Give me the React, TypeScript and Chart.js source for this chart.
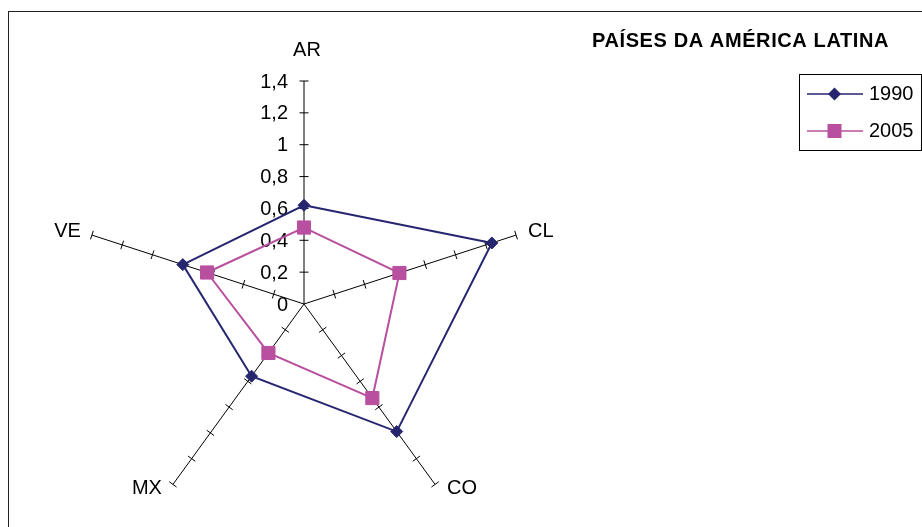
import React, { useEffect, useRef } from 'react';
import { Chart, registerables } from 'chart.js';

Chart.register(...registerables);

const CATEGORIES = ['AR', 'CL', 'CO', 'MX', 'VE'];
const SERIES_LABELS = ['1990', '2005'];
const SERIES_1990 = [0.62, 1.24, 0.99, 0.56, 0.8];
const SERIES_2005 = [0.48, 0.63, 0.73, 0.38, 0.64];
const TICK_VALUES = [0, 0.2, 0.4, 0.6, 0.8, 1, 1.2, 1.4];
const TICK_LABELS = ['0', '0,2', '0,4', '0,6', '0,8', '1', '1,2', '1,4'];
const TITLE = 'PAÍSES DA AMÉRICA LATINA';

const NAVY = '#262670';
const MAGENTA = '#b8509f';
const FONT = '"Liberation Sans", Arial, sans-serif';

function drawDiamond(ctx: CanvasRenderingContext2D, x: number, y: number, r: number, color: string) {
  ctx.beginPath();
  ctx.moveTo(x, y - r);
  ctx.lineTo(x + r, y);
  ctx.lineTo(x, y + r);
  ctx.lineTo(x - r, y);
  ctx.closePath();
  ctx.fillStyle = color;
  ctx.fill();
}

function drawSquare(ctx: CanvasRenderingContext2D, x: number, y: number, s: number, color: string) {
  ctx.fillStyle = color;
  ctx.fillRect(x - s / 2, y - s / 2, s, s);
}

const decorPlugin = {
  id: 'decor',
  beforeDatasetsDraw(chart: any) {
    const r = chart.scales.r;
    const ctx: CanvasRenderingContext2D = chart.ctx;
    ctx.save();
    // tick marks across each axis
    ctx.strokeStyle = '#000';
    ctx.lineWidth = 1;
    CATEGORIES.forEach((_, i) => {
      TICK_VALUES.forEach((v) => {
        if (v === 0) return;
        const p = r.getPointPositionForValue(i, v);
        const a = p.angle;
        const px = -Math.sin(a) * 4.5;
        const py = Math.cos(a) * 4.5;
        ctx.beginPath();
        ctx.moveTo(p.x - px, p.y - py);
        ctx.lineTo(p.x + px, p.y + py);
        ctx.stroke();
      });
    });
    // tick labels along the first axis
    ctx.fillStyle = '#000';
    ctx.font = `20px ${FONT}`;
    ctx.textAlign = 'right';
    ctx.textBaseline = 'middle';
    TICK_VALUES.forEach((v, k) => {
      const d = r.getDistanceFromCenterForValue(v);
      ctx.fillText(TICK_LABELS[k], r.xCenter - 16, r.yCenter - d + 1);
    });
    ctx.restore();
  },
  afterDraw(chart: any) {
    const r = chart.scales.r;
    const ctx: CanvasRenderingContext2D = chart.ctx;
    ctx.save();
    // category labels
    ctx.fillStyle = '#000';
    ctx.font = `20px ${FONT}`;
    ctx.textBaseline = 'middle';
    const R = r.getDistanceFromCenterForValue(r.max);
    CATEGORIES.forEach((lab, i) => {
      const p = r.getPointPosition(i, R);
      const c = Math.cos(p.angle);
      const s = Math.sin(p.angle);
      if (Math.abs(c) < 0.1) {
        ctx.textAlign = 'center';
        ctx.fillText(lab, p.x + 3, p.y - 31);
      } else {
        ctx.textAlign = c > 0 ? 'left' : 'right';
        ctx.fillText(lab, p.x + (c > 0 ? 12 : -11), p.y + (s > 0 ? 4 : -4));
      }
    });

    // title
    ctx.font = `bold 20px ${FONT}`;
    ctx.textAlign = 'left';
    (ctx as any).letterSpacing = '0.6px';
    ctx.fillText(TITLE, 592, 41);
    (ctx as any).letterSpacing = '0px';

    // legend
    ctx.strokeStyle = '#000';
    ctx.lineWidth = 1;
    ctx.strokeRect(799.5, 74.5, 122, 76);
    const rows = [
      { label: SERIES_LABELS[0], color: NAVY, y: 94, kind: 'diamond' },
      { label: SERIES_LABELS[1], color: MAGENTA, y: 131, kind: 'square' },
    ];
    rows.forEach((row) => {
      ctx.strokeStyle = row.color;
      ctx.lineWidth = 1.5;
      ctx.beginPath();
      ctx.moveTo(807, row.y);
      ctx.lineTo(863, row.y);
      ctx.stroke();
      if (row.kind === 'diamond') drawDiamond(ctx, 834.5, row.y, 6.5, row.color);
      else drawSquare(ctx, 834.5, row.y, 14, row.color);
      ctx.fillStyle = '#000';
      ctx.font = `20px ${FONT}`;
      ctx.textAlign = 'left';
      ctx.fillText(row.label, 869, row.y);
    });

    // outer frame
    ctx.strokeStyle = '#222';
    ctx.lineWidth = 1;
    ctx.strokeRect(8.5, 11.5, 2000, 2000);
    ctx.restore();
  },
};

export default function App() {
  const ref = useRef<HTMLCanvasElement>(null);
  useEffect(() => {
    const chart = new Chart(ref.current as HTMLCanvasElement, {
      type: 'radar',
      data: {
        labels: CATEGORIES,
        datasets: [
          {
            label: SERIES_LABELS[0],
            data: SERIES_1990,
            borderColor: NAVY,
            backgroundColor: NAVY,
            borderWidth: 2,
            fill: false,
            pointStyle: 'rectRot',
            pointRadius: 6,
            pointBorderWidth: 1,
            pointBackgroundColor: NAVY,
            pointBorderColor: NAVY,
          },
          {
            label: SERIES_LABELS[1],
            data: SERIES_2005,
            borderColor: MAGENTA,
            backgroundColor: MAGENTA,
            borderWidth: 2,
            fill: false,
            pointStyle: 'rect',
            pointRadius: 9.3,
            pointBorderWidth: 1,
            pointBackgroundColor: MAGENTA,
            pointBorderColor: MAGENTA,
          },
        ],
      },
      options: {
        responsive: false,
        animation: false,
        events: [],
        devicePixelRatio: 1,
        layout: { padding: { left: 81, top: 81, right: 395, bottom: 0 } },
        plugins: {
          legend: { display: false },
          title: { display: false },
          tooltip: { enabled: false },
        },
        elements: { line: { tension: 0 } },
        scales: {
          r: {
            min: 0,
            max: 1.4,
            ticks: { display: false, stepSize: 0.2 },
            grid: { display: false },
            angleLines: { display: true, color: '#000', lineWidth: 1 },
            pointLabels: { display: false },
          },
        },
      },
      plugins: [decorPlugin],
    } as any);
    return () => chart.destroy();
  }, []);
  return (
    <div style={{ position: 'fixed', left: 0, top: 0, width: 922, height: 527, background: '#fff' }}>
      <canvas ref={ref} width={922} height={527} style={{ display: 'block' }} />
    </div>
  );
}
